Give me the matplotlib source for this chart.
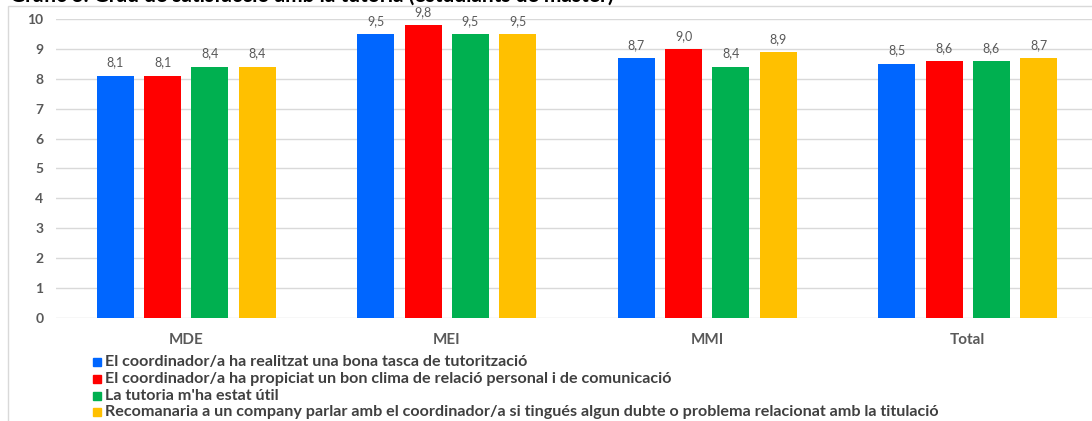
import matplotlib
matplotlib.use("Agg")
import matplotlib.pyplot as plt
import numpy as np
from matplotlib.patches import Rectangle

plt.rcParams['font.family'] = ['Lato', 'DejaVu Sans']

# data
categories = ["MDE", "MEI", "MMI", "Total"]
series_names = [
    "El coordinador/a ha realitzat una bona tasca de tutorització",
    "El coordinador/a ha propiciat un bon clima de relació personal i de comunicació",
    "La tutoria m'ha estat útil",
    "Recomanaria a un company parlar amb el coordinador/a si tingués algun dubte o problema relacionat amb la titulació",
]
coord_tasca = [8.1, 9.5, 8.7, 8.5]
coord_clima = [8.1, 9.8, 9.0, 8.6]
tutoria_util = [8.4, 9.5, 8.4, 8.6]
recomanaria = [8.4, 9.5, 8.9, 8.7]
y_ticks = list(range(0, 11))

series = [coord_tasca, coord_clima, tutoria_util, recomanaria]
colors = ["#0066FF", "#FF0000", "#00B050", "#FFC000"]
title = "Gràfic 3. Grau de satisfacció amb la tutoria (estudiants de màster)"

W, H = 1092, 421
fig = plt.figure(figsize=(W / 100, H / 100), dpi=100)

# chart frame and title (cut at the top edge, as in the source)
fig.patches.append(Rectangle((8 / W, -0.1), 1.2, 1.1 - 6 / H, transform=fig.transFigure,
                             fill=False, edgecolor="#D9D9D9", lw=1))
fig.text(10 / W, 1 - 2 / H, title, fontsize=15, fontweight="bold", color="black", va="baseline")

ax = fig.add_axes([56 / W, 1 - 318 / H, (1098 - 56) / W, (318 - 19) / H])

x = np.arange(len(categories))
bw = 0.142
pitch = 0.1823
for i, (vals, c) in enumerate(zip(series, colors)):
    ax.bar(x + (i - 1.5) * pitch, vals, width=bw, color=c, zorder=3)
    for xi, v in zip(x + (i - 1.5) * pitch, vals):
        ax.annotate(f"{v:.1f}".replace(".", ","), (xi, v), xytext=(0, 9.5), textcoords="offset points",
                    ha="center", va="center", fontsize=9, color="#595959")

ax.set_xlim(-0.5, 3.5)
ax.set_ylim(0, 10)
ax.set_yticks(y_ticks)
ax.set_xticks(x)
ax.set_xticklabels(categories, fontsize=11, fontweight="bold", color="#595959")
for lab in ax.get_yticklabels():
    lab.set_fontweight("bold")
    lab.set_color("#595959")
    lab.set_fontsize(10)
ax.tick_params(axis="y", length=0, pad=9)
ax.tick_params(axis="x", length=0, pad=11)
ax.grid(axis="y", color="#D9D9D9", lw=1, zorder=0)
for s in ax.spines.values():
    s.set_visible(False)

# legend, one row per series
row_y = [362, 379, 396, 412]
for name, c, ry in zip(series_names, colors, row_y):
    fig.patches.append(Rectangle((93 / W, 1 - (ry + 4) / H), 8 / W, 8 / H,
                                 transform=fig.transFigure, color=c))
    fig.text(105 / W, 1 - ry / H, name, fontsize=11.6, fontweight="bold", color="#404040",
             va="center", ha="left")

fig.savefig("out.png", dpi=100)
